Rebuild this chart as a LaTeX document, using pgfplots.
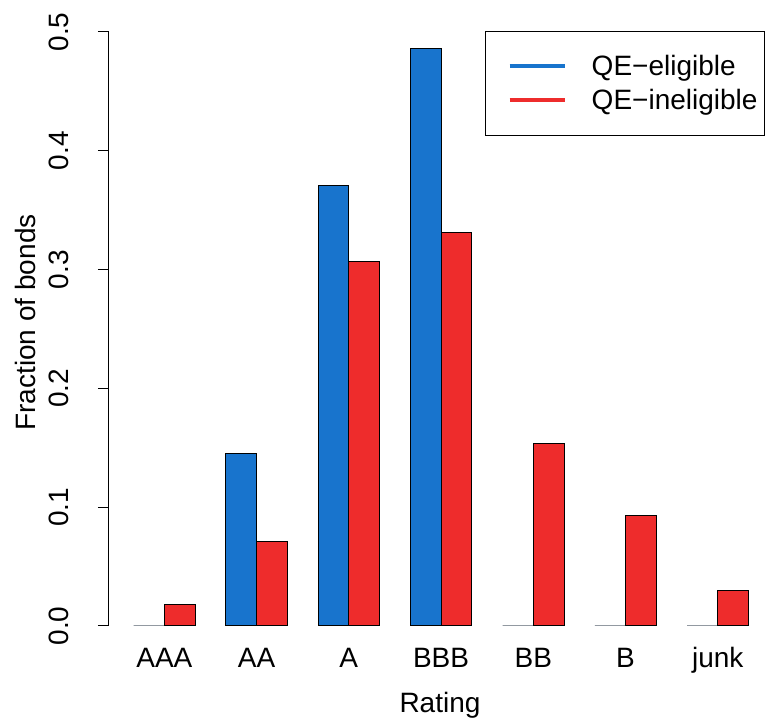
\documentclass[border=0pt]{standalone}
\usepackage{fontspec}
\setmainfont{Liberation Sans}
\usepackage{pgfplots}
\pgfplotsset{compat=1.18}
\definecolor{qeblue}{RGB}{24,116,205}
\definecolor{qered}{RGB}{238,44,44}
\begin{document}
\fontsize{14}{16.8}\selectfont
\begin{tikzpicture}
\begin{axis}[
  at={(54.5pt,47.5pt)}, anchor=south west,
  scale only axis, width=329pt, height=297pt,
  xmin=0.2, xmax=21.6, ymin=0, ymax=0.5,
  axis lines*=left,
  x axis line style={draw=none},
  y axis line style={line width=0.5pt, black, -},
  xtick={2,5,8,11,14,17,20},
  xticklabels={AAA,AA,A,BBB,BB,B,junk},
  xtick style={draw=none},
  x tick label style={font=\fontsize{14}{16.8}\selectfont, anchor=base, yshift=-15.5pt},
  ytick={0,0.1,0.2,0.3,0.4,0.5},
  yticklabel={\pgfmathprintnumber[fixed,fixed zerofill,precision=1]{\tick}},
  y tick label style={font=\fontsize{14}{16.8}\selectfont, xshift=-14.5pt, rotate=90, anchor=base},
  ytick style={line width=0.5pt, black},
  tick align=outside, major tick length=5.5pt,
  /pgf/number format/assume math mode=true,
  xlabel={Rating}, ylabel={Fraction of bonds},
  label style={font=\fontsize{14}{16.8}\selectfont},
  xlabel style={at={(axis description cs:0.503,-0.14646)}, anchor=base},
  ylabel style={at={(axis description cs:-0.11094,0.511)}, rotate=0, anchor=base},
  legend style={at={(1,1)}, anchor=north east, xshift=-1pt, yshift=0.5pt,
    draw=black, line width=0.5pt, font=\fontsize{14}{16.8}\selectfont,
    inner xsep=3.5pt, inner ysep=10pt, row sep=2pt,
    nodes={inner sep=0pt, text height=12pt, text depth=3pt},
    /tikz/every odd column/.append style={column sep=12.5pt}},
  legend cell align=left,
  legend image code/.code={\path[draw=none] (0pt,0pt) -- (8.5pt,0pt); \draw[#1] (8.5pt,0pt) -- (36pt,0pt);},
]
\addplot[ybar, bar width=1, bar shift=0pt, fill=qeblue, draw=black, line width=0.5pt, forget plot]
  coordinates {(1.5,0) (4.5,0.1456) (7.5,0.371) (10.5,0.4857) (13.5,0) (16.5,0) (19.5,0)};
\addplot[ybar, bar width=1, bar shift=0pt, fill=qered, draw=black, line width=0.5pt, forget plot]
  coordinates {(2.5,0.0185) (5.5,0.0707) (8.5,0.307) (11.5,0.331) (14.5,0.154) (17.5,0.0934) (20.5,0.0295)};
\addlegendimage{qeblue, line width=2pt}
\addlegendentry{QE−eligible}
\addlegendimage{qered, line width=2pt}
\addlegendentry{QE−ineligible}
\end{axis}
\pgfresetboundingbox
\path[use as bounding box] (0,0) rectangle (383.5pt,360.5pt);
\end{tikzpicture}
\end{document}
